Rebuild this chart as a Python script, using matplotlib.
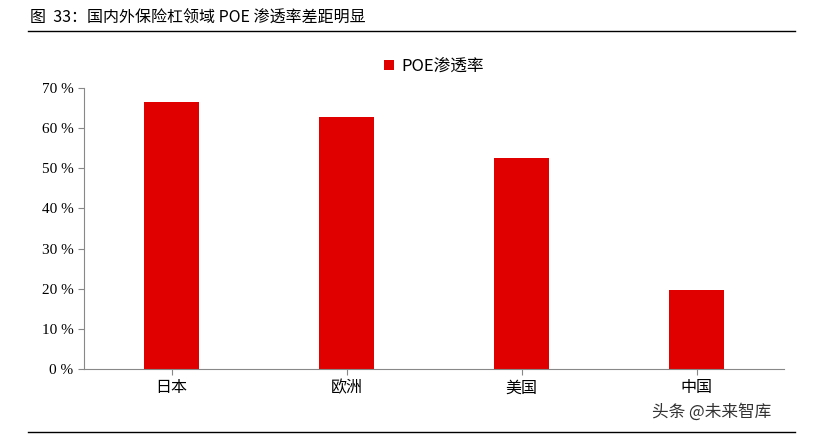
import matplotlib
matplotlib.use("Agg")
import matplotlib.pyplot as plt
from matplotlib.lines import Line2D

plt.rcParams['font.family'] = ['Noto Sans CJK SC', 'DejaVu Sans']

categories = ['日本', '欧洲', '美国', '中国']
values = [66.5, 62.8, 52.5, 19.7]
yticks = [0, 10, 20, 30, 40, 50, 60, 70]
series_name = 'POE渗透率'
title = '图  33：国内外保险杠领域 POE 渗透率差距明显'

fig = plt.figure(figsize=(8.17, 4.42), dpi=100)
W, H = 817, 442
ax = fig.add_axes([84/W, 1-369/H, 700/W, (369-88)/H])
ax.bar(range(len(categories)), values, width=0.31, color='#E00000', label=series_name)
ax.set_xlim(-0.5, len(categories)-0.5)
ax.set_ylim(0, 70)
ax.set_yticks(yticks)
ax.set_yticklabels([f'{v} %' for v in yticks], family=['Liberation Serif'], fontsize=11)
ax.set_xticks(range(len(categories)))
ax.set_xticklabels(categories, fontsize=11.5)
for s in ['top', 'right']:
    ax.spines[s].set_visible(False)
for s in ['left', 'bottom']:
    ax.spines[s].set_color('#888888')
ax.tick_params(axis='y', direction='out', length=4, colors='#888888', labelcolor='black')
ax.tick_params(axis='x', direction='out', length=4, colors='#888888', labelcolor='black')
ax.legend(loc='upper center', bbox_to_anchor=(0.5, 1.16), frameon=False, fontsize=12,
          handlelength=0.6, handleheight=0.6, handletextpad=0.4)

fig.text(30/W, 1-18/H, title, fontsize=11.5, va='center', ha='left')
fig.add_artist(Line2D([28/W, 795/W], [1-31/H, 1-31/H], color='black', lw=1))
fig.add_artist(Line2D([28/W, 795/W], [1-432/H, 1-432/H], color='black', lw=1))
fig.text(652/W, 1-412/H, '头条 @未来智库', fontsize=12, color='#333333', va='center', ha='left')
fig.savefig('out.png', dpi=100)
